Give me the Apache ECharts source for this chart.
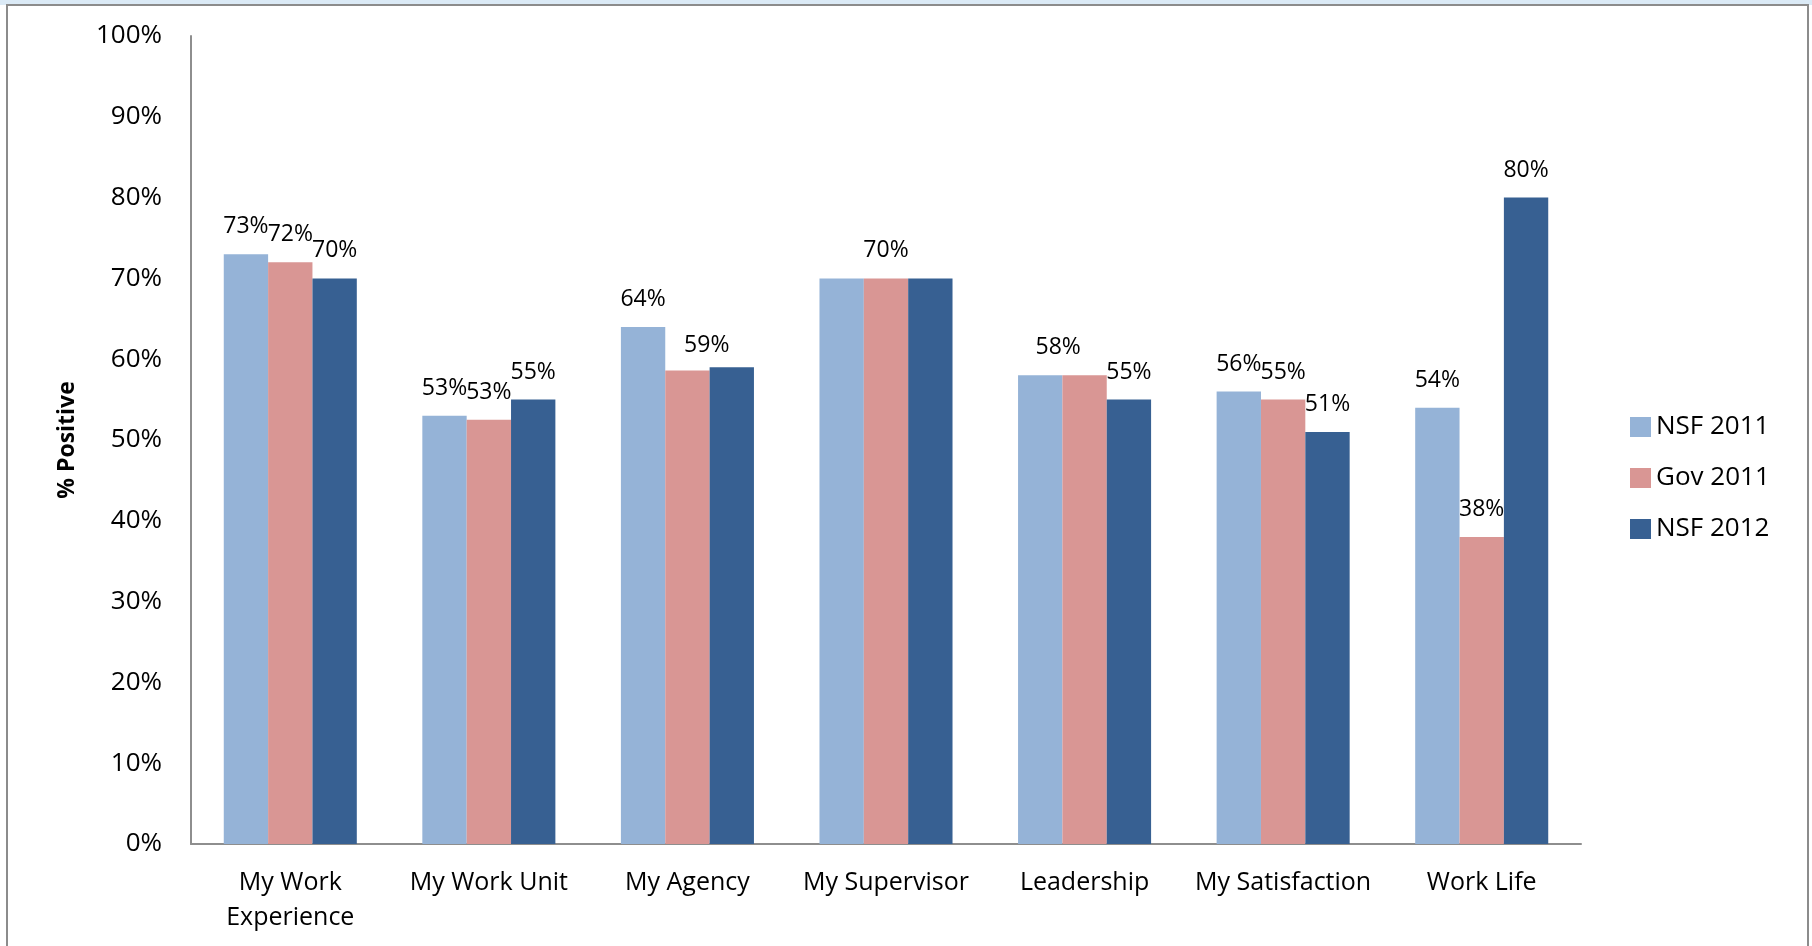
<!DOCTYPE html>
<html>
<head>
<meta charset="utf-8">
<script src="https://cdn.jsdelivr.net/npm/echarts@6/dist/echarts.min.js"></script>
<style>
    html, body { margin: 0; padding: 0; background: #fff; }
    #chart { width: 1812px; height: 946px; }
</style>
</head>
<body>
<div id="chart"></div>
<script>
// categories and values
var categories = ['My Work\nExperience', 'My Work Unit', 'My Agency', 'My Supervisor', 'Leadership', 'My Satisfaction', 'Work Life'];
var seriesNames = ['NSF 2011', 'Gov 2011', 'NSF 2012'];
var nsf2011 = [73, 53, 64, 70, 58, 56, 54];
var gov2011 = [72, 52.5, 58.6, 70, 58, 55, 38];
var nsf2012 = [70, 55, 59, 70, 55, 51, 80];
var yTicks = [0, 10, 20, 30, 40, 50, 60, 70, 80, 90, 100];

var colors = ['#95b3d7', '#d99694', '#376092'];
var fontFamily = '"Open Sans", Lato, sans-serif';

// labels that Excel left out, and the ones it moved
var hiddenLabels = { 1: [2, 4], 0: [3], 2: [3] };
var labelShift = { '2_2': [-25, 6], '0_4': [18, 0] };

function build_series(idx, values) {
    var hide = hiddenLabels[idx] || [];
    var data = values.map(function (v, i) {
        var item = { value: v };
        if (hide.indexOf(i) >= 0) {
            item.label = { show: false };
        } else if (labelShift[idx + '_' + i]) {
            item.label = { offset: labelShift[idx + '_' + i] };
        }
        return item;
    });
    return {
        name: seriesNames[idx],
        type: 'bar',
        data: data,
        barGap: '0%',
        barCategoryGap: '33%',
        itemStyle: { color: colors[idx] },
        label: {
            show: true,
            position: 'top',
            distance: 16,
            color: '#000',
            fontSize: 23,
            fontFamily: fontFamily,
            formatter: function (p) {
                return Math.round(p.value) + '%';
            }
        }
    };
}

var myChart = echarts.init(document.getElementById('chart'));
var option = {
    animation: false,
    backgroundColor: '#fff',
    textStyle: { fontFamily: fontFamily, color: '#000' },
    graphic: [
        { type: 'rect', shape: { x: 0, y: 0, width: 1812, height: 5 }, style: { fill: '#dbeaf6' } },
        { type: 'rect', shape: { x: 7, y: 5, width: 1801, height: 960 }, style: { fill: 'none', stroke: '#8c8c8c', lineWidth: 2 } }
    ],
    grid: { left: 191, right: 231, top: 36, bottom: 102 },
    legend: {
        orient: 'vertical',
        left: 1630,
        top: 414,
        padding: 0,
        itemWidth: 21,
        itemHeight: 20,
        itemGap: 25,
        icon: 'rect',
        data: seriesNames,
        textStyle: { fontSize: 26, color: '#000', fontFamily: fontFamily }
    },
    xAxis: {
        type: 'category',
        data: categories,
        axisLine: { lineStyle: { color: '#8e8e8e', width: 2 } },
        axisTick: { show: false },
        axisLabel: { color: '#000', fontSize: 25, lineHeight: 35, margin: 21, interval: 0 }
    },
    yAxis: {
        type: 'value',
        min: yTicks[0],
        max: yTicks[yTicks.length - 1],
        interval: 10,
        name: '% Positive',
        nameLocation: 'middle',
        nameGap: 112,
        nameTextStyle: { fontSize: 23, fontWeight: 'bold', color: '#000' },
        axisLine: { show: true, lineStyle: { color: '#8e8e8e', width: 2 } },
        axisTick: { show: false },
        splitLine: { show: false },
        axisLabel: { color: '#000', fontSize: 26, margin: 29, formatter: '{value}%' }
    },
    series: [
        build_series(0, nsf2011),
        build_series(1, gov2011),
        build_series(2, nsf2012)
    ]
};
myChart.setOption(option);
</script>
</body>
</html>
